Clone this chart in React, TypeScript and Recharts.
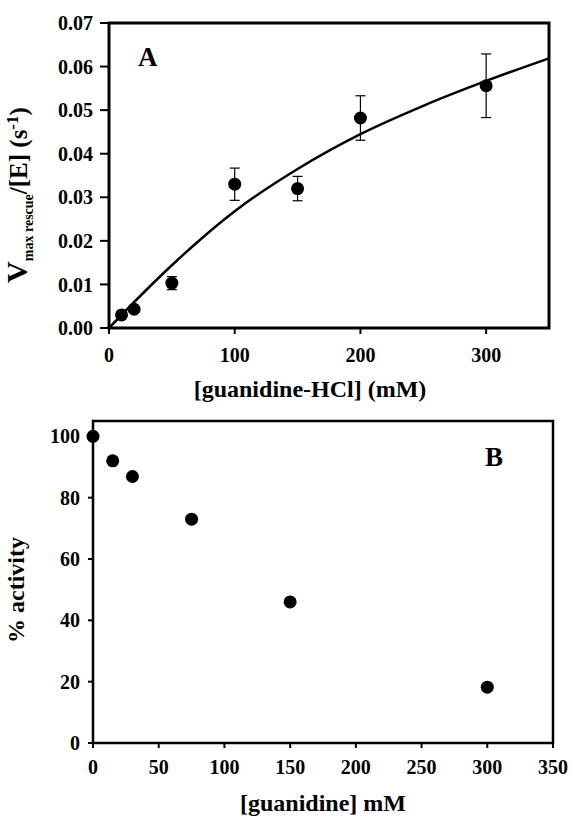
import React from "react";
import {
  ComposedChart,
  Scatter,
  Line,
  XAxis,
  YAxis,
  ErrorBar,
  ReferenceArea,
  Label,
} from "recharts";

// panel A: rescue rate vs guanidine-HCl
const rescueConc = [10, 20, 50, 100, 150, 200, 300];
const rescueRate = [0.003, 0.0043, 0.0103, 0.033, 0.032, 0.0482, 0.0556];
const rescueErr = [0.0002, 0.0002, 0.0015, 0.0037, 0.0028, 0.0051, 0.0073];

// fitted curve
const fitConc = [0, 25, 50, 75, 100, 150, 200, 250, 300, 350];
const fitRate = [0, 0.0074, 0.0144, 0.0209, 0.0268, 0.0365, 0.0445, 0.051, 0.0567, 0.0619];

// panel B: % activity vs guanidine
const activityConc = [0, 15, 30, 75, 150, 300];
const activityPct = [100, 92, 86.9, 73, 46, 18.2];

const rescueTicksX = [0, 100, 200, 300];
const rescueTicksY = [0, 0.01, 0.02, 0.03, 0.04, 0.05, 0.06, 0.07];
const activityTicksX = [0, 50, 100, 150, 200, 250, 300, 350];
const activityTicksY = [0, 20, 40, 60, 80, 100];

const FONT = "'Liberation Serif', 'Times New Roman', serif";
const tickStyle = { fill: "#000", fontSize: 20, fontWeight: "bold", fontFamily: FONT };

const Dot = (props: any) => <circle cx={props.cx} cy={props.cy} r={6.5} fill="#000" />;

export default function App() {
  const rescueData = rescueConc.map((x, i) => ({ x, y: rescueRate[i], err: rescueErr[i] }));
  const fitData = fitConc.map((x, i) => ({ x, y: fitRate[i] }));
  const activityData = activityConc.map((x, i) => ({ x, y: activityPct[i] }));

  return (
    <div style={{ position: "absolute", left: 0, top: 0, width: 571, height: 817, background: "#fff", fontFamily: FONT }}>
      <div style={{ position: "absolute", left: 0, top: 0 }}>
        <ComposedChart width={571} height={410} margin={{ top: 23, right: 22, left: 0, bottom: 0 }}>
          <XAxis
            type="number"
            dataKey="x"
            domain={[0, 350]}
            ticks={rescueTicksX}
            axisLine={false}
            tickLine={{ stroke: "#000", strokeWidth: 2 }}
            tickSize={6}
            tickMargin={14}
            tick={tickStyle}
            height={82}
            label={{
              content: () => (
                <text x={310} y={397} textAnchor="middle" fontSize={24} fontWeight="bold" fontFamily={FONT} fill="#000">
                  [guanidine-HCl] (mM)
                </text>
              ),
            }}
          />
          <YAxis
            type="number"
            domain={[0, 0.07]}
            ticks={rescueTicksY}
            tickFormatter={(v: number) => v.toFixed(2)}
            axisLine={false}
            tickLine={{ stroke: "#000", strokeWidth: 2 }}
            tickSize={9}
            tickMargin={7}
            tick={tickStyle}
            width={109}
            label={{
              content: () => (
                <text
                  x={27}
                  y={195}
                  transform="rotate(-90, 27, 195)"
                  textAnchor="middle"
                  fontSize={25}
                  fontWeight="bold"
                  fontFamily={FONT}
                  fill="#000"
                >
                  <tspan fontSize={30}>V</tspan>
                  <tspan fontSize={14} dy={6}>max rescue</tspan>
                  <tspan dy={-6}>/[E] (s</tspan>
                  <tspan fontSize={17} dy={-9}>-1</tspan>
                  <tspan dy={9}>)</tspan>
                </text>
              ),
            }}
          />
          <ReferenceArea x1={0} x2={350} y1={0} y2={0.07} fill="none" stroke="#000" strokeWidth={3} fillOpacity={0}>
            <Label
              content={(p: any) => (
                <text x={p.viewBox.x + 29} y={p.viewBox.y + 43} fontSize={27} fontWeight="bold" fontFamily={FONT} fill="#000">
                  A
                </text>
              )}
            />
          </ReferenceArea>
          <Line data={fitData} dataKey="y" type="monotone" stroke="#000" strokeWidth={2.5} dot={false} isAnimationActive={false} />
          <Scatter data={rescueData} dataKey="y" shape={Dot} isAnimationActive={false}>
            <ErrorBar dataKey="err" direction="y" width={5} stroke="#000" strokeWidth={1.2} />
          </Scatter>
        </ComposedChart>
      </div>
      <div style={{ position: "absolute", left: 0, top: 400 }}>
        <ComposedChart width={571} height={417} margin={{ top: 21, right: 18, left: 0, bottom: 0 }}>
          <XAxis
            type="number"
            dataKey="x"
            domain={[0, 350]}
            ticks={activityTicksX}
            axisLine={false}
            tickLine={{ stroke: "#000", strokeWidth: 2 }}
            tickSize={5}
            tickMargin={12}
            tick={tickStyle}
            height={74}
            label={{
              content: () => (
                <text x={323} y={411} textAnchor="middle" fontSize={24} fontWeight="bold" fontFamily={FONT} fill="#000">
                  [guanidine] mM
                </text>
              ),
            }}
          />
          <YAxis
            type="number"
            domain={[0, 105]}
            ticks={activityTicksY}
            axisLine={false}
            tickLine={{ stroke: "#000", strokeWidth: 2 }}
            tickSize={5}
            tickMargin={8}
            tick={tickStyle}
            width={93}
            label={{
              content: () => (
                <text
                  x={24}
                  y={190}
                  transform="rotate(-90, 24, 190)"
                  textAnchor="middle"
                  fontSize={24}
                  fontWeight="bold"
                  fontFamily={FONT}
                  fill="#000"
                >
                  % activity
                </text>
              ),
            }}
          />
          <ReferenceArea x1={0} x2={350} y1={0} y2={105} fill="none" stroke="#000" strokeWidth={2.5} fillOpacity={0}>
            <Label
              content={(p: any) => (
                <text
                  x={p.viewBox.x + p.viewBox.width - 50}
                  y={p.viewBox.y + 45}
                  textAnchor="end"
                  fontSize={27}
                  fontWeight="bold"
                  fontFamily={FONT}
                  fill="#000"
                >
                  B
                </text>
              )}
            />
          </ReferenceArea>
          <Scatter data={activityData} dataKey="y" shape={Dot} isAnimationActive={false} />
        </ComposedChart>
      </div>
    </div>
  );
}
